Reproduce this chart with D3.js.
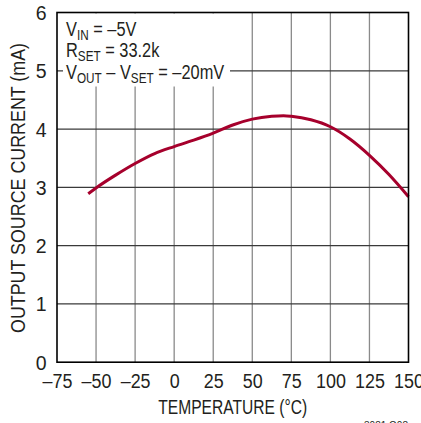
<!DOCTYPE html>
<html>
<head>
<meta charset="utf-8">
<script src="https://cdn.jsdelivr.net/npm/d3@7"></script>
<style>
html,body{margin:0;padding:0;background:#fff;}
svg{display:block;}
text{font-family:"Liberation Sans",Arial,"Helvetica",sans-serif;fill:#231f20;}
</style>
</head>
<body>
<svg id="chart" width="421" height="423"></svg>
<script>
const temperature = [-55, -50, -37.5, -25, -12.5, 0, 12.5, 25, 37.5, 50, 62.5, 70, 75, 87.5, 100, 112.5, 125, 137.5, 150];
const sourceCurrent = [2.89, 2.99, 3.21, 3.41, 3.58, 3.70, 3.81, 3.93, 4.07, 4.17, 4.22, 4.23, 4.22, 4.16, 4.04, 3.83, 3.55, 3.22, 2.84];
const xTicks = [-75, -50, -25, 0, 25, 50, 75, 100, 125, 150];
const yTicks = [0, 1, 2, 3, 4, 5, 6];

const svg = d3.select("#chart");
const L = 57, R = 408.5, T = 12.5, B = 362.2;
const x = d3.scaleLinear().domain([-75, 150]).range([L, R]);
const y = d3.scaleLinear().domain([0, 6]).range([B, T]);

// vertical grid
svg.append("g").selectAll("line").data(xTicks.slice(1, -1)).join("line")
  .attr("x1", d => x(d)).attr("x2", d => x(d)).attr("y1", T).attr("y2", B)
  .attr("stroke", "#8a8a8a").attr("stroke-width", 1.3);
// horizontal grid
svg.append("g").selectAll("line").data(yTicks.slice(1, -1)).join("line")
  .attr("x1", L).attr("x2", R).attr("y1", d => y(d)).attr("y2", d => y(d))
  .attr("stroke", "#3a3a3a").attr("stroke-width", 1.2);

// legend white box
svg.append("rect").attr("x", 63).attr("y", T + 1).attr("width", 167).attr("height", 73).attr("fill", "#fff");

// curve
const line = d3.line().x((d, i) => x(temperature[i])).y(d => y(d)).curve(d3.curveMonotoneX);
svg.append("path").datum(sourceCurrent).attr("d", line)
  .attr("fill", "none").attr("stroke", "#a6002c").attr("stroke-width", 3).attr("stroke-linecap", "butt");

// frame
svg.append("rect").attr("x", L).attr("y", T).attr("width", R - L).attr("height", B - T)
  .attr("fill", "none").attr("stroke", "#000").attr("stroke-width", 1.6);

// axes (labels only)
const xAxis = d3.axisBottom(x).tickValues(xTicks).tickSize(0).tickPadding(0)
  .tickFormat(d => d < 0 ? "\u2013" + Math.abs(d) : String(d));
const gx = svg.append("g").attr("transform", `translate(0,${B})`).call(xAxis);
gx.select(".domain").remove();
gx.attr("font-family", null).attr("font-size", null);
gx.selectAll("text").attr("dy", null).attr("y", 26).attr("font-size", 19.5)
  .attr("transform", "scale(0.92,1)").attr("fill", "#231f20");

const yAxis = d3.axisLeft(y).tickValues(yTicks).tickSize(0).tickPadding(0).tickFormat(d3.format("d"));
const gy = svg.append("g").attr("transform", `translate(${L},0)`).call(yAxis);
gy.select(".domain").remove();
gy.attr("font-family", null).attr("font-size", null);
gy.selectAll("text").attr("x", -10.5).attr("dy", "0.36em").attr("font-size", 19.5).attr("fill", "#231f20");

// axis titles
svg.append("text").attr("x", (L + R) / 2).attr("y", 414).attr("text-anchor", "middle")
  .attr("font-size", 19.5).attr("textLength", 149).attr("lengthAdjust", "spacingAndGlyphs")
  .text("TEMPERATURE (°C)");
svg.append("text").attr("transform", `translate(25,188) rotate(-90)`).attr("text-anchor", "middle")
  .attr("font-size", 20).attr("textLength", 290).attr("lengthAdjust", "spacingAndGlyphs")
  .text("OUTPUT SOURCE CURRENT (mA)");

// legend text
const lg = svg.append("g").attr("font-size", 19.5).attr("transform", "translate(66,0) scale(0.84,1)");
const t1 = lg.append("text").attr("x", 0).attr("y", 36);
t1.append("tspan").text("V");
t1.append("tspan").attr("font-size", 14).attr("dy", 4).text("IN");
t1.append("tspan").attr("dy", -4).text(" = \u20135V");
const t2 = lg.append("text").attr("x", 0).attr("y", 57);
t2.append("tspan").text("R");
t2.append("tspan").attr("font-size", 14).attr("dy", 4).text("SET");
t2.append("tspan").attr("dy", -4).text(" = 33.2k");
const t3 = lg.append("text").attr("x", 0).attr("y", 79);
t3.append("tspan").text("V");
t3.append("tspan").attr("font-size", 14).attr("dy", 4).text("OUT");
t3.append("tspan").attr("dy", -4).text(" \u2013 V");
t3.append("tspan").attr("font-size", 14).attr("dy", 4).text("SET");
t3.append("tspan").attr("dy", -4).text(" = \u201320mV");

// footnote
svg.append("text").attr("x", 408).attr("y", 428.5).attr("text-anchor", "end")
  .attr("font-size", 10).text("3081 G08");
</script>
</body>
</html>
